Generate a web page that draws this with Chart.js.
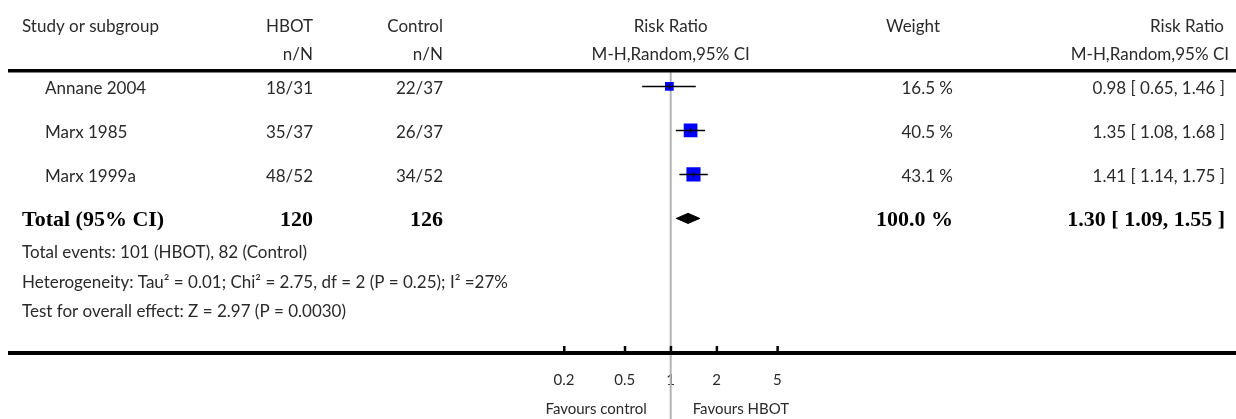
<!DOCTYPE html>
<html>
<head>
<meta charset="utf-8">
<script src="https://cdn.jsdelivr.net/npm/chart.js@4.4.1/dist/chart.umd.min.js"></script>
<style>
html, body { margin: 0; padding: 0; background: #fff; }
#wrap { width: 1236px; height: 419px; }
</style>
</head>
<body>
<div id="wrap"><canvas id="forestChart" width="1236" height="419"></canvas></div>
<script>
// study rows
var studies = ['Annane 2004', 'Marx 1985', 'Marx 1999a'];
var hbotEvents = [18, 35, 48];
var hbotTotal = [31, 37, 52];
var ctrlEvents = [22, 26, 34];
var ctrlTotal = [37, 37, 52];
var riskRatio = [0.98, 1.35, 1.41];
var ciLow = [0.65, 1.08, 1.14];
var ciHigh = [1.46, 1.68, 1.75];
var weights = [16.5, 40.5, 43.1];

// pooled row
var totalRR = 1.30, totalLow = 1.09, totalHigh = 1.55;
var totalHbot = 120, totalCtrl = 126, totalWeight = 100.0;

var xTicks = [0.2, 0.5, 1, 2, 5];
var footLines = [
	'Total events: 101 (HBOT), 82 (Control)',
	'Heterogeneity: Tau\u00b2 = 0.01; Chi\u00b2 = 2.75, df = 2 (P = 0.25); I\u00b2 =27%',
	'Test for overall effect: Z = 2.97 (P = 0.0030)'
];

var sans = '17px Lato';
var serifBold = 'bold 22px "Liberation Serif"';
var textCol = '#2a2a2a';

function txt(ctx, s, x, y, align, font, color) {
	ctx.font = font || sans;
	ctx.fillStyle = color || textCol;
	ctx.textAlign = align || 'left';
	ctx.textBaseline = 'middle';
	ctx.fillText(s, x, y);
}

function ciText(est, lo, hi) {
	return est.toFixed(2) + ' [ ' + lo.toFixed(2) + ', ' + hi.toFixed(2) + ' ]';
}

var forestPlugin = {
	id: 'forest',
	beforeDatasetsDraw: function (chart) {
		var ctx = chart.ctx, a = chart.chartArea;
		var px = chart.scales.x.getPixelForValue(1);
		ctx.save();
		ctx.strokeStyle = '#b4b4b4';
		ctx.lineWidth = 2;
		ctx.beginPath();
		ctx.moveTo(px, a.top);
		ctx.lineTo(px, chart.height);
		ctx.stroke();
		ctx.restore();
	},
	afterDatasetsDraw: function (chart) {
		var ctx = chart.ctx, xs = chart.scales.x, ys = chart.scales.y;
		ctx.save();
		ctx.strokeStyle = '#000';
		ctx.lineWidth = 1;
		for (var i = 0; i < studies.length; i++) {
			var px = xs.getPixelForValue(riskRatio[i]);
			var py = ys.getPixelForValue(i);
			ctx.beginPath();
			ctx.moveTo(px, py - 2.5);
			ctx.lineTo(px, py + 2.5);
			ctx.stroke();
		}
		ctx.restore();
	},
	afterDraw: function (chart) {
		var ctx = chart.ctx, xs = chart.scales.x, ys = chart.scales.y, a = chart.chartArea;
		ctx.save();

		// rules
		ctx.fillStyle = '#000';
		ctx.fillRect(8, 69, chart.width - 8, 3.5);
		ctx.fillRect(8, a.bottom - 2, chart.width - 8, 4);
		for (var t = 0; t < xTicks.length; t++) {
			var tx = xs.getPixelForValue(xTicks[t]);
			ctx.fillRect(tx - 1, a.bottom - 7, 2.5, 7);
		}

		// header
		var midX = xs.getPixelForValue(1);
		txt(ctx, 'Study or subgroup', 22, 27);
		txt(ctx, 'HBOT', 313, 27, 'right');
		txt(ctx, 'n/N', 313, 55, 'right');
		txt(ctx, 'Control', 443, 27, 'right');
		txt(ctx, 'n/N', 443, 55, 'right');
		txt(ctx, 'Risk Ratio', midX, 27, 'center');
		txt(ctx, 'M-H,Random,95% CI', midX, 55, 'center');
		txt(ctx, 'Weight', 940, 27, 'right');
		txt(ctx, 'Risk Ratio', 1224, 27, 'right');
		txt(ctx, 'M-H,Random,95% CI', 1229, 55, 'right');

		// study rows
		for (var i = 0; i < studies.length; i++) {
			var ry = ys.getPixelForValue(i) + 2.5;
			txt(ctx, studies[i], 45, ry);
			txt(ctx, hbotEvents[i] + '/' + hbotTotal[i], 313, ry, 'right');
			txt(ctx, ctrlEvents[i] + '/' + ctrlTotal[i], 443, ry, 'right');
			txt(ctx, weights[i].toFixed(1) + ' %', 953, ry, 'right');
			txt(ctx, ciText(riskRatio[i], ciLow[i], ciHigh[i]), 1225, ry, 'right');
		}

		// pooled row
		var ty = ys.getPixelForValue(studies.length) + 2;
		txt(ctx, 'Total (95% CI)', 22, ty, 'left', serifBold, '#000');
		txt(ctx, String(totalHbot), 313, ty, 'right', serifBold, '#000');
		txt(ctx, String(totalCtrl), 443, ty, 'right', serifBold, '#000');
		txt(ctx, totalWeight.toFixed(1) + ' %', 953, ty, 'right', serifBold, '#000');
		txt(ctx, ciText(totalRR, totalLow, totalHigh), 1225, ty, 'right', serifBold, '#000');

		for (var f = 0; f < footLines.length; f++) {
			txt(ctx, footLines[f], 22, 253 + f * 29.5);
		}

		txt(ctx, 'Favours control', midX - 24, 409, 'right', '15px Lato');
		txt(ctx, 'Favours HBOT', midX + 22, 409, 'left', '15px Lato');
		ctx.restore();
	}
};

var datasets = [];
datasets.push({
	type: 'scatter',
	data: studies.map(function (s, i) { return { x: riskRatio[i], y: i }; }),
	pointStyle: 'rect',
	pointRadius: weights.map(function (w) { return 1.52 * Math.sqrt(w); }),
	backgroundColor: '#0000ff',
	borderWidth: 0,
	order: 2
});
for (var i = 0; i < studies.length; i++) {
	datasets.push({
		type: 'line',
		data: [{ x: ciLow[i], y: i }, { x: ciHigh[i], y: i }],
		borderColor: '#000',
		borderWidth: 1.5,
		pointRadius: 0,
		fill: false,
		order: 1
	});
}
var dh = 0.115;
var row = studies.length;
datasets.push({
	type: 'line',
	data: [
		{ x: totalLow, y: row }, { x: totalRR, y: row - dh },
		{ x: totalHigh, y: row }, { x: totalRR, y: row + dh },
		{ x: totalLow, y: row }
	],
	borderColor: '#000',
	backgroundColor: '#000',
	borderWidth: 1,
	pointRadius: 0,
	fill: 'shape',
	order: 1
});

var ctx = document.getElementById('forestChart');
var chart = new Chart(ctx, {
	type: 'scatter',
	data: { datasets: datasets },
	options: {
		responsive: false,
		animation: false,
		layout: {
			padding: { left: 518.1, right: 412.7, top: 71, bottom: 20 }
		},
		plugins: {
			legend: { display: false },
			tooltip: { enabled: false }
		},
		scales: {
			x: {
				type: 'logarithmic',
				min: 0.1,
				max: 10,
				afterBuildTicks: function (scale) {
					scale.ticks = xTicks.map(function (v) { return { value: v }; });
				},
				afterFit: function (scale) { scale.height = 46; },
				ticks: {
					autoSkip: false,
					maxRotation: 0,
					padding: 18,
					color: textCol,
					font: { family: 'Lato', size: 15 },
					callback: function (v) { return String(v); }
				},
				grid: { display: false, drawTicks: false },
				border: { display: false }
			},
			y: {
				type: 'linear',
				display: false,
				reverse: true,
				min: -0.35,
				max: 6.06
			}
		}
	},
	plugins: [forestPlugin]
});
</script>
</body>
</html>
